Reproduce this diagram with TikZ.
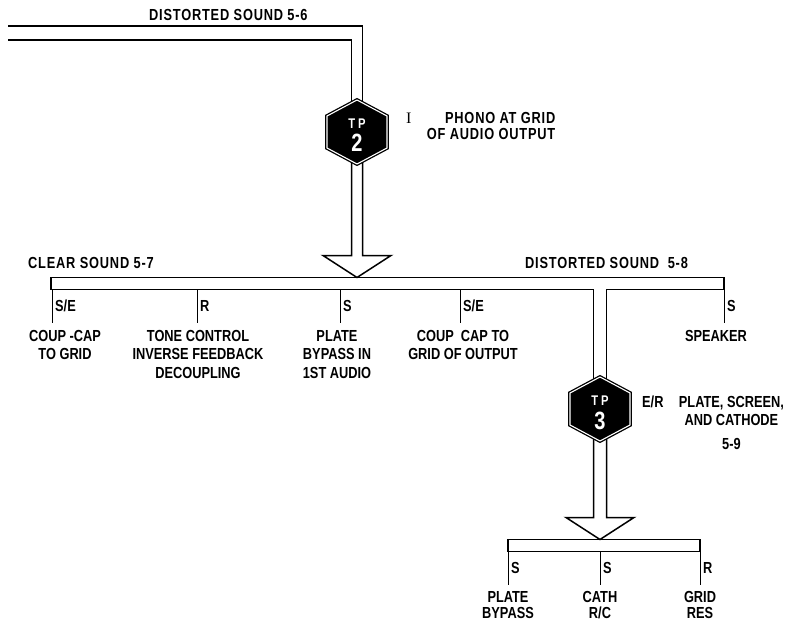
\documentclass[tikz,border=0pt]{standalone}
\usepackage{fontspec}
\setmainfont{Liberation Sans}[FakeStretch=0.8]
\newfontfamily\headfont{Liberation Sans}[FakeStretch=0.8, LetterSpace=5]
\newfontfamily\stepfont{Liberation Serif}
\usetikzlibrary{positioning, calc, backgrounds}
\pgfdeclarelayer{pipes}
\pgfsetlayers{pipes,background,main}
\tikzset{
  every picture/.style={x=1pt, y=-1pt, line width=1.5pt},
  pipe/.style={draw=black, line width=1.5pt},
  bus/.style={inner sep=0pt, outer sep=0pt, minimum height=12pt},
  tp/.style={inner sep=0pt, outer sep=0pt, minimum width=60pt, minimum height=64pt,
    text=white, font=\bfseries},
  hexline/.style={fill=black, draw=black, double=white, double distance=1.1pt, line width=1.3pt},
  head/.style={font=\headfont\bfseries\fontsize{16}{18}\selectfont, inner sep=0pt},
  desc/.style={font=\bfseries\fontsize{16}{18.5}\selectfont, align=center, inner sep=0pt},
  code/.style={font=\bfseries\fontsize{16}{18}\selectfont, inner sep=0pt},
}
\newcommand{\tpmark}[1]{\raisebox{-20pt}[10pt][10pt]{\shortstack{{\fontsize{14}{14}\selectfont T\kern3pt P}\\[3pt]{\fontsize{25}{25}\selectfont #1}}}}
% hexagon round a test point node
\newcommand{\tphex}[1]{%
  \draw[hexline] (#1.north) -- ($(#1.east)+(0,-16)$) -- ($(#1.east)+(0,16)$) -- (#1.south)
    -- ($(#1.west)+(0,16)$) -- ($(#1.west)+(0,-16)$) -- cycle;}
% hollow block arrow: source node, tip coordinate, half width of the shaft
\newcommand{\blockarrow}[3]{%
  \draw[pipe] ($(#1.center)+(-#3,0)$) -- ($(#2)+(-#3,-22)$) -- ++(#3-34,0) -- (#2)
    -- ($(#2)+(34,-22)$) -- ++(#3-34,0) -- ($(#1.center)+(#3,0)$);}

\begin{document}
\begin{tikzpicture}
  \useasboundingbox (0,0) rectangle (790,623);
  % test points and buses
  \node[tp] (tp2) at (357,132) {\tpmark{2}};
  \node[tp] (tp3) at (600,409) {\tpmark{3}};
  \node[bus, minimum width=673pt] (bus1) at (387.5,283.5) {};
  \node[bus, draw, minimum width=192pt] (bus2) at (604,545.5) {};
  \coordinate (src) at (8,33);
  \coordinate (tip2) at (bus1.north -| tp2);
  \coordinate (tip3) at (bus2.north -| tp3);

  \begin{scope}[on background layer]
    \tphex{tp2}
    \tphex{tp3}
  \end{scope}
  \begin{pgfonlayer}{pipes}
    \draw[pipe] ($(src)+(0,-7)$) -| ($(tp2.center)+(5.5,0)$);
    \draw[pipe] ($(src)+(0,7)$) -| ($(tp2.center)+(-5.5,0)$);
    \blockarrow{tp2}{tip2}{5.5}
    \draw[pipe] ($(tp3.center)+(-6.5,0)$) |- (bus1.south west) -- (bus1.north west)
      -- (bus1.north east) -- (bus1.south east) -| ($(tp3.center)+(6.5,0)$);
    \blockarrow{tp3}{tip3}{6.5}
  \end{pgfonlayer}

  % headings
  \node[head, anchor=west] (sound56) at (149,15) {DISTORTED SOUND 5-6};
  \node[head, anchor=west] (sound57) at (28,263) {CLEAR SOUND 5-7};
  \node[head, anchor=west] (sound58) at (525,263) {DISTORTED SOUND\ \ 5-8};

  % notes at the test points
  \node[code, right=19pt of tp2, yshift=14pt] (tp2-step) {\mdseries\stepfont I};
  \node[desc, below right=0pt and 15pt of tp2-step.north east, align=right,
    font=\headfont\bfseries\fontsize{16}{16}\selectfont] (tp2-note) {PHONO AT GRID\\OF AUDIO OUTPUT};
  \node[code, right=12pt of tp3, yshift=7pt] (tp3-step) {E/R};
  \node[desc, below right=0pt and 15pt of tp3-step.north east] (tp3-note) {PLATE, SCREEN,\\AND CATHODE\\[5pt]5-9};

  % branches of the first bus
  \foreach \x/\tag/\name/\cx/\txt in {52/{S/E}/coupcap/65/{COUP -CAP\\TO GRID},
      197/R/tone/198/{TONE CONTROL\\INVERSE FEEDBACK\\DECOUPLING},
      340/S/bypass/337/{PLATE\\BYPASS IN\\1ST AUDIO},
      460/{S/E}/outcap/463/{COUP\ \ CAP TO\\GRID OF OUTPUT},
      724/S/speaker/716/SPEAKER}
  {
    \coordinate (\name-end) at (\x,323);
    \draw (bus1.south -| \name-end) -- node[code, right=3pt] (\name-tag) {\tag} (\name-end);
    \node[desc, anchor=north] (\name) at (\cx,330) {\txt};
  }

  % branches of the second bus
  \foreach \x/\tag/\name/\txt in {508/S/platebp/{PLATE\\BYPASS}, 600/S/cathrc/{CATH\\R/C},
      700/R/gridres/{GRID\\RES}}
  {
    \coordinate (\name-end) at (\x,585);
    \draw (bus2.south -| \name-end) -- node[code, right=3pt] (\name-tag) {\tag} (\name-end);
    \node[desc, anchor=north, font=\bfseries\fontsize{16}{16}\selectfont] (\name) at (\x,591) {\txt};
  }
\end{tikzpicture}
\end{document}
